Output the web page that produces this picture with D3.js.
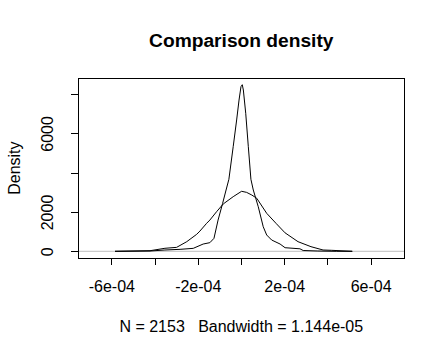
<!DOCTYPE html>
<html><head><meta charset="utf-8">
<script src="https://cdn.jsdelivr.net/npm/d3@7"></script>
<style>
body{margin:0;background:#fff;}
text{font-family:"Liberation Sans",Arial,sans-serif;fill:#000;}
</style></head>
<body><svg id="c" width="445" height="356"></svg>
<script>
// Peaked density (kernel estimate)
const peakX = [-5.83e-4,-4.21e-4,-3.52e-4,-2.82e-4,-2.21e-4,-1.75e-4,-1.44e-4,-1.25e-4,-1.06e-4,-0.85e-4,-0.69e-4,-0.56e-4,-0.36e-4,-0.20e-4,-0.09e-4,0,0.06e-4,0.11e-4,0.22e-4,0.34e-4,0.46e-4,0.57e-4,0.80e-4,1.03e-4,1.19e-4,1.42e-4,1.81e-4,2.04e-4,2.73e-4,2.88e-4,3.56e-4,4.43e-4,5.14e-4];
const peakY = [0,15,66,100,150,370,440,660,1590,2440,3120,3665,5325,6685,7700,8380,8480,8210,7025,5325,3665,3120,2270,1250,830,575,370,183,127,40,15,0,0];
// Broad comparison density
const broadX = [-5.83e-4,-4.21e-4,-3.52e-4,-2.98e-4,-2.51e-4,-2.05e-4,-1.90e-4,-1.59e-4,-1.44e-4,-1.13e-4,-0.82e-4,-0.36e-4,0.03e-4,0.26e-4,0.50e-4,0.73e-4,1.19e-4,1.62e-4,2.04e-4,2.64e-4,3.24e-4,3.80e-4,4.20e-4,5.16e-4];
const broadY = [0,30,153,200,490,865,1030,1425,1590,2015,2410,2780,3055,3000,2865,2700,1935,1425,940,490,235,66,50,0];
// Axis ticks and labels
const xTicks = [-6e-4,-4e-4,-2e-4,0,2e-4,4e-4,6e-4];
const xTickLabels = ["-6e-04","","-2e-04","","2e-04","","6e-04"];
const yTicks = [0,2000,4000,6000,8000];
const yTickLabels = ["0","2000","","6000",""];
const titleText = "Comparison density";
const subText = "N = 2153   Bandwidth = 1.144e-05";
const yLabel = "Density";

const L=78.3,R=404.3,T=78.3,B=258;
const svg=d3.select("#c");
const x=d3.scaleLinear().domain([-7.53e-4,7.56e-4]).range([L,R]);
const y=d3.scaleLinear().domain([-341,8806]).range([B,T]);

// zero reference line
svg.append("line").attr("x1",L).attr("x2",R).attr("y1",y(0)).attr("y2",y(0))
  .attr("stroke","#BEBEBE").attr("stroke-width",1);

const line=d3.line().x(d=>x(d[0])).y(d=>y(d[1]));
svg.append("path").datum(d3.zip(peakX,peakY)).attr("d",line).attr("fill","none").attr("stroke","#000").attr("stroke-width",1);
svg.append("path").datum(d3.zip(broadX,broadY)).attr("d",line).attr("fill","none").attr("stroke","#000").attr("stroke-width",1);

// box
svg.append("rect").attr("x",L).attr("y",T).attr("width",R-L).attr("height",B-T)
  .attr("fill","none").attr("stroke","#000").attr("stroke-width",1).attr("shape-rendering","crispEdges");

// x axis
const xa=svg.append("g").attr("transform",`translate(0,${B})`)
  .call(d3.axisBottom(x).tickValues(xTicks).tickSize(7).tickPadding(15.5)
    .tickFormat((d,i)=>xTickLabels[i]));
xa.select(".domain").remove();
xa.selectAll("line").attr("shape-rendering","crispEdges");
xa.selectAll("text").style("font-size","16px").style("font-family","'Liberation Sans',Arial,sans-serif").attr("fill","#000");

// y axis
const ya=svg.append("g").attr("transform",`translate(${L},0)`)
  .call(d3.axisLeft(y).tickValues(yTicks).tickSize(7).tickFormat((d,i)=>yTickLabels[i]));
ya.select(".domain").remove();
ya.selectAll("line").attr("shape-rendering","crispEdges");
ya.selectAll("text").attr("x",null).attr("dy",null).attr("text-anchor","middle")
  .attr("transform","translate(-25,0) rotate(-90)")
  .style("font-size","16px").style("font-family","'Liberation Sans',Arial,sans-serif").attr("fill","#000");

// titles
svg.append("text").attr("x",(L+R)/2).attr("y",46.5).attr("text-anchor","middle")
  .style("font-size","19.2px").style("font-weight","bold").text(titleText);
svg.append("text").attr("x",(L+R)/2).attr("y",331.5).attr("text-anchor","middle")
  .style("font-size","16px").style("white-space","pre").text(subText);
svg.append("text").attr("transform",`translate(20,${(T+B)/2}) rotate(-90)`).attr("text-anchor","middle")
  .style("font-size","16px").text(yLabel);
</script></body></html>
